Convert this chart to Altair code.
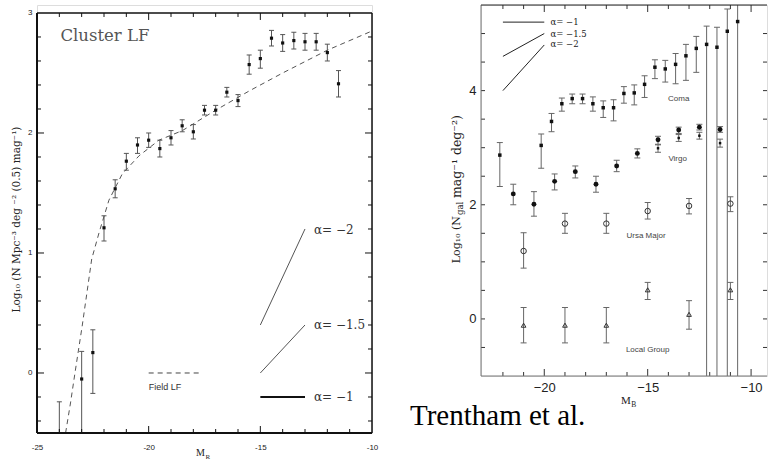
import altair as alt
import pandas as pd

# ---------------- Left panel: Cluster LF ----------------
cl_mag = [-24.0, -23.0, -22.5, -22.0, -21.5, -21.0, -20.5, -20.0, -19.5, -19.0, -18.5, -18.0,
          -17.5, -17.0, -16.5, -16.0, -15.5, -15.0, -14.5, -14.0, -13.5, -13.0, -12.5, -12.0, -11.5]
cl_log = [-0.62, -0.05, 0.17, 1.21, 1.535, 1.765, 1.90, 1.94, 1.87, 1.96, 2.06, 2.01,
          2.19, 2.19, 2.34, 2.27, 2.57, 2.62, 2.79, 2.75, 2.77, 2.76, 2.76, 2.67, 2.41]
cl_hi = [-0.24, 0.18, 0.36, 1.31, 1.61, 1.83, 1.96, 2.00, 1.94, 2.02, 2.11, 2.07,
         2.23, 2.23, 2.38, 2.32, 2.65, 2.69, 2.855, 2.82, 2.84, 2.83, 2.83, 2.74, 2.52]
cl_lo = [-1.0, -0.6, -0.17, 1.10, 1.46, 1.69, 1.83, 1.88, 1.80, 1.90, 2.01, 1.95,
         2.15, 2.15, 2.30, 2.22, 2.49, 2.54, 2.725, 2.68, 2.70, 2.69, 2.69, 2.60, 2.30]

field_mag = [-23.72, -23.50, -23.30, -22.97, -22.55, -22.22, -21.78, -21.18, -20.43, -19.54,
             -18.49, -17.0, -15.5, -14.0, -12.0, -10.0]
field_log = [-0.50, -0.25, 0.0, 0.40, 0.95, 1.17, 1.44, 1.66, 1.81, 1.94,
             2.02, 2.19, 2.35, 2.50, 2.69, 2.85]

alpha_names = ["−1", "−1.5", "−2"]
l_ref_x = [-15.0, -13.0]
l_ref_y1 = [-0.2, 0.0, 0.4]
l_ref_y2 = [-0.2, 0.4, 1.2]
l_ref_label_x = -12.6
l_ref_label_y = [-0.2, 0.4, 1.19]
l_field_x = [-20.0, -17.6]
l_field_y = 0.0

lx_labels = [-25, -20, -15, -10]
ly_labels = [0, 1, 2, 3]

# ---------------- Right panel: Trentham et al. ----------------
coma_mag = [-22.15, -20.15, -19.65, -19.15, -18.65, -18.15, -17.65, -17.15, -16.65, -16.15, -15.65,
            -15.15, -14.65, -14.15, -13.65, -13.15, -12.65, -12.15, -11.65, -11.15, -10.65]
coma_log = [2.87, 3.04, 3.46, 3.77, 3.86, 3.86, 3.77, 3.70, 3.70, 3.95, 3.96,
            4.11, 4.41, 4.38, 4.46, 4.61, 4.74, 4.81, 4.76, 5.04, 5.21]
coma_hi = [3.09, 3.24, 3.60, 3.87, 3.94, 3.94, 3.89, 3.82, 3.84, 4.07, 4.10,
           4.26, 4.54, 4.53, 4.65, 4.81, 4.95, 5.13, 5.11, 5.43, 5.80]
coma_lo = [2.32, 2.64, 3.28, 3.64, 3.77, 3.77, 3.64, 3.53, 3.47, 3.78, 3.75,
           3.88, 4.21, 4.15, 4.12, 4.18, 4.32, -1.5, -1.5, -1.5, -1.5]

virgo_mag = [-21.5, -20.5, -19.5, -18.5, -17.5, -16.5, -15.5, -14.5, -13.5, -12.5, -11.5]
virgo_log = [2.19, 2.01, 2.41, 2.58, 2.36, 2.68, 2.90, 3.14, 3.31, 3.36, 3.32]
virgo_hi = [2.36, 2.23, 2.54, 2.68, 2.50, 2.78, 2.98, 3.20, 3.36, 3.41, 3.37]
virgo_lo = [2.00, 1.80, 2.26, 2.47, 2.22, 2.58, 2.82, 3.06, 3.25, 3.31, 3.27]

virgo2_mag = [-14.5, -13.5, -12.5, -11.5]
virgo2_log = [2.99, 3.17, 3.21, 3.08]
virgo2_hi = [3.05, 3.23, 3.27, 3.15]
virgo2_lo = [2.92, 3.11, 3.15, 3.01]

uma_mag = [-21.0, -19.0, -17.0, -15.0, -13.0, -11.0]
uma_log = [1.19, 1.67, 1.67, 1.89, 1.98, 2.02]
uma_hi = [1.51, 1.85, 1.85, 2.04, 2.11, 2.14]
uma_lo = [0.89, 1.50, 1.50, 1.75, 1.84, 1.88]

lg_mag = [-21.0, -19.0, -17.0, -15.0, -13.0, -11.0]
lg_log = [-0.11, -0.11, -0.11, 0.51, 0.08, 0.51]
lg_hi = [0.20, 0.20, 0.20, 0.64, 0.32, 0.64]
lg_lo = [-0.42, -0.42, -0.42, 0.34, -0.18, 0.34]

r_ref_x = [-22.0, -20.0]
r_ref_y1 = [5.2, 4.6, 4.0]
r_ref_y2 = [5.2, 5.0, 4.8]
r_ref_label_x = -19.7
r_ref_label_y = [5.2, 5.0, 4.81]

group_names = ["Coma", "Virgo", "Ursa Major", "Local Group"]
group_x = [-13.5, -13.55, -15.08, -15.0]
group_y = [3.85, 2.80, 1.46, -0.55]

rx_labels = [-20, -15, -10]
ry_labels = [0, 2, 4]

# ---------------- geometry / styling ----------------
W1, H1 = 335, 428
W2, H2 = 286, 371
LX = [-25.0, -10.0]
LY = [-0.5, 3.0665]
RX = [-23.06, -23.06 + W2 / 20.68]
RY = [-1.0, 5.5]
SERIF = "DejaVu Serif"
SANS = "Liberation Sans"

lxs = alt.Scale(domain=LX, nice=False, zero=False)
lys = alt.Scale(domain=LY, nice=False, zero=False)
rxs = alt.Scale(domain=RX, nice=False, zero=False)
rys = alt.Scale(domain=RY, nice=False, zero=False)

lx_axis = alt.Axis(values=lx_labels, labelExpr="datum.value + ''", ticks=False, domain=False,
                   grid=False, labelFlush=False, labelFont=SANS, labelFontSize=8,
                   labelColor="#222", labelPadding=10, title=None)
ly_axis = alt.Axis(values=ly_labels, labelExpr="datum.value + ''", ticks=False, domain=False,
                   grid=False, labelFont=SANS, labelFontSize=8, labelColor="#222",
                   labelPadding=5, title="Log₁₀ (N Mpc⁻³ deg ⁻² (0.5) mag⁻¹)",
                   titleFont=SERIF, titleFontSize=10.5, titleFontWeight="normal",
                   titleColor="#222", titlePadding=6)
rx_axis = alt.Axis(values=rx_labels, labelExpr="replace(datum.value + '', '-', '\u2212')",
                   ticks=False, domain=False, grid=False, labelFlush=False, labelFont=SANS,
                   labelFontSize=13, labelColor="#222", labelPadding=5, title=None)
ry_axis = alt.Axis(values=ry_labels, labelExpr="datum.value + ''", ticks=False, domain=False,
                   grid=False, labelFont=SANS, labelFontSize=13, labelColor="#222",
                   labelPadding=5, title=None)


def lx(f):
    return alt.X(f, type="quantitative", scale=lxs, axis=lx_axis)


def ly(f):
    return alt.Y(f, type="quantitative", scale=lys, axis=ly_axis)


def rx(f):
    return alt.X(f, type="quantitative", scale=rxs, axis=rx_axis)


def ry(f):
    return alt.Y(f, type="quantitative", scale=rys, axis=ry_axis)


def tick_df(vals):
    return pd.DataFrame({"t": vals})


# ---------------- left panel layers ----------------
cl_df = pd.DataFrame({"m": cl_mag, "v": cl_log, "hi": cl_hi, "lo": cl_lo})
fld_df = pd.DataFrame({"m": field_mag, "v": field_log})
lref_df = pd.DataFrame({"a": alpha_names, "x1": l_ref_x[0], "x2": l_ref_x[1],
                        "y1": l_ref_y1, "y2": l_ref_y2,
                        "lx": l_ref_label_x, "ly": l_ref_label_y})
lref_df["t"] = "α= " + lref_df["a"]
lfield_df = pd.DataFrame({"x1": [l_field_x[0]], "x2": [l_field_x[1]], "y": [l_field_y]})

ECOL = "#555"
left_layers = []
left_layers.append(alt.Chart(fld_df).mark_line(color="#555", strokeWidth=1, strokeDash=[5, 4], clip=True)
                   .encode(x=lx("m"), y=ly("v")))
left_layers.append(alt.Chart(cl_df).mark_rule(color=ECOL, strokeWidth=1, clip=True)
                   .encode(x=lx("m"), y=ly("lo"), y2=alt.Y2("hi")))
for col in ["hi", "lo"]:
    left_layers.append(alt.Chart(cl_df).mark_tick(orient="horizontal", size=5, thickness=1,
                                                  color=ECOL, opacity=1, clip=True)
                       .encode(x=lx("m"), y=ly(col)))
left_layers.append(alt.Chart(cl_df).mark_square(size=10, color="#111", opacity=1, clip=True)
                   .encode(x=lx("m"), y=ly("v")))
left_layers.append(alt.Chart(lref_df).transform_filter("datum.a != '−1'")
                   .mark_rule(color="#555", strokeWidth=1)
                   .encode(x=lx("x1"), x2=alt.X2("x2"), y=ly("y1"), y2=alt.Y2("y2")))
left_layers.append(alt.Chart(lref_df).transform_filter("datum.a == '−1'")
                   .mark_rule(color="#111", strokeWidth=2)
                   .encode(x=lx("x1"), x2=alt.X2("x2"), y=ly("y1"), y2=alt.Y2("y2")))
left_layers.append(alt.Chart(lref_df).mark_text(font=SERIF, fontSize=12, color="#333",
                                                align="left", baseline="middle")
                   .encode(x=lx("lx"), y=ly("ly"), text="t:N"))
left_layers.append(alt.Chart(lfield_df).mark_rule(color="#444", strokeWidth=1, strokeDash=[5, 4])
                   .encode(x=lx("x1"), x2=alt.X2("x2"), y=ly("y")))
left_layers.append(alt.Chart(pd.DataFrame({"x": [-20.0], "y": [-0.12], "t": ["Field LF"]}))
                   .mark_text(font=SANS, fontSize=9, color="#333", align="left", baseline="middle")
                   .encode(x=lx("x"), y=ly("y"), text="t:N"))
left_layers.append(alt.Chart(pd.DataFrame({"x": [-23.95], "y": [2.805], "t": ["Cluster LF"]}))
                   .mark_text(font=SERIF, fontSize=16.5, color="#555", align="left",
                              baseline="middle")
                   .encode(x=lx("x"), y=ly("y"), text="t:N"))

top_px = H1 * (LY[1] - 3.0) / (LY[1] - LY[0])
lx_minor = [v for v in range(-24, -10) if v % 5 != 0]
lx_major = [-20, -15]
ly_major = [0.0, 1.0, 2.0]
ly_minor = [-0.4, -0.2, 0.2, 0.4, 0.6, 0.8, 1.2, 1.4, 1.6, 1.8, 2.2, 2.4, 2.6, 2.8]

for vals, ln in [(lx_minor, 4), (lx_major, 7)]:
    left_layers.append(alt.Chart(tick_df(vals)).mark_rule(color="#111", strokeWidth=1)
                       .encode(x=lx("t"), y=alt.value(H1), y2=alt.value(H1 - ln)))
    left_layers.append(alt.Chart(tick_df(vals)).mark_rule(color="#111", strokeWidth=1)
                       .encode(x=lx("t"), y=alt.value(top_px), y2=alt.value(top_px + ln)))
for vals, ln in [(ly_minor, 4), (ly_major, 7)]:
    left_layers.append(alt.Chart(tick_df(vals)).mark_rule(color="#111", strokeWidth=1)
                       .encode(y=ly("t"), x=alt.value(0), x2=alt.value(ln)))
    left_layers.append(alt.Chart(tick_df(vals)).mark_rule(color="#111", strokeWidth=1)
                       .encode(y=ly("t"), x=alt.value(W1), x2=alt.value(W1 - ln)))

left_layers.append(alt.Chart().mark_rule(color="#111", strokeWidth=2)
                   .encode(x=alt.value(0), y=alt.value(top_px), y2=alt.value(H1)))
left_layers.append(alt.Chart().mark_rule(color="#111", strokeWidth=2)
                   .encode(x=alt.value(0), x2=alt.value(W1), y=alt.value(H1)))
left_layers.append(alt.Chart().mark_rule(color="#111", strokeWidth=1.5)
                   .encode(x=alt.value(W1), y=alt.value(top_px), y2=alt.value(H1)))
left_layers.append(alt.Chart().mark_rule(color="#111", strokeWidth=1.5)
                   .encode(x=alt.value(0), x2=alt.value(W1), y=alt.value(top_px)))
left_layers.append(alt.Chart().mark_text(text="M", font="Liberation Serif", fontSize=10,
                                         color="#222", align="right", baseline="alphabetic")
                   .encode(x=alt.value(168), y=alt.value(451)))
left_layers.append(alt.Chart().mark_text(text="R", font="Liberation Serif", fontSize=7,
                                         color="#222", align="left", baseline="alphabetic")
                   .encode(x=alt.value(168.5), y=alt.value(453.5)))

left = alt.layer(*left_layers).properties(width=W1, height=H1)

# ---------------- right panel layers ----------------
def err_df(m, v, hi, lo):
    return pd.DataFrame({"m": m, "v": v, "hi": hi, "lo": lo})


coma_df = err_df(coma_mag, coma_log, coma_hi, coma_lo)
virgo_df = err_df(virgo_mag, virgo_log, virgo_hi, virgo_lo)
virgo2_df = err_df(virgo2_mag, virgo2_log, virgo2_hi, virgo2_lo)
uma_df = err_df(uma_mag, uma_log, uma_hi, uma_lo)
lg_df = err_df(lg_mag, lg_log, lg_hi, lg_lo)

RCOL = "#666"
right_layers = []
for d in [coma_df, virgo_df, virgo2_df, uma_df, lg_df]:
    right_layers.append(alt.Chart(d).mark_rule(color=RCOL, strokeWidth=1, clip=True)
                        .encode(x=rx("m"), y=ry("lo"), y2=alt.Y2("hi")))
    for col in ["hi", "lo"]:
        right_layers.append(alt.Chart(d).mark_tick(orient="horizontal", size=6, thickness=1,
                                                   color=RCOL, opacity=1, clip=True)
                            .encode(x=rx("m"), y=ry(col)))
right_layers.append(alt.Chart(coma_df).mark_square(size=12, color="#111", opacity=1, clip=True)
                    .encode(x=rx("m"), y=ry("v")))
right_layers.append(alt.Chart(virgo_df).mark_circle(size=24, color="#111", opacity=1, clip=True)
                    .encode(x=rx("m"), y=ry("v")))
right_layers.append(alt.Chart(virgo2_df).mark_square(size=6, color="#111", opacity=1, clip=True)
                    .encode(x=rx("m"), y=ry("v")))
right_layers.append(alt.Chart(uma_df).mark_point(shape="circle", size=30, color="#333", filled=False,
                                                 strokeWidth=1, opacity=1, clip=True)
                    .encode(x=rx("m"), y=ry("v")))
right_layers.append(alt.Chart(lg_df).mark_point(shape="triangle-up", size=22, color="#333",
                                                filled=False, strokeWidth=1, opacity=1, clip=True)
                    .encode(x=rx("m"), y=ry("v")))

rref_df = pd.DataFrame({"a": alpha_names, "x1": r_ref_x[0], "x2": r_ref_x[1],
                        "y1": r_ref_y1, "y2": r_ref_y2,
                        "lx": r_ref_label_x, "ly": r_ref_label_y})
rref_df["t"] = "α= " + rref_df["a"]
right_layers.append(alt.Chart(rref_df).mark_rule(color="#222", strokeWidth=1)
                    .encode(x=rx("x1"), x2=alt.X2("x2"), y=ry("y1"), y2=alt.Y2("y2")))
right_layers.append(alt.Chart(rref_df).mark_text(font=SERIF, fontSize=8.5, color="#222",
                                                 align="left", baseline="middle")
                    .encode(x=rx("lx"), y=ry("ly"), text="t:N"))
grp_df = pd.DataFrame({"t": group_names, "x": group_x, "y": group_y})
right_layers.append(alt.Chart(grp_df).mark_text(font=SANS, fontSize=8, color="#444",
                                                align="center", baseline="middle")
                    .encode(x=rx("x"), y=ry("y"), text="t:N"))

rx_minor = [v for v in range(-22, -9) if v % 5 != 0]
rx_major = [-20, -15, -10]
ry_ticks = [-0.5, 0.0, 0.5, 1.0, 1.5, 2.0, 2.5, 3.0, 3.5, 4.0, 4.5, 5.0]
for vals, ln in [(rx_minor, 4), (rx_major, 7)]:
    right_layers.append(alt.Chart(tick_df(vals)).mark_rule(color="#333", strokeWidth=1)
                        .encode(x=rx("t"), y=alt.value(H2), y2=alt.value(H2 - ln)))
    right_layers.append(alt.Chart(tick_df(vals)).mark_rule(color="#333", strokeWidth=1)
                        .encode(x=rx("t"), y=alt.value(0), y2=alt.value(ln)))
right_layers.append(alt.Chart(tick_df(ry_ticks)).mark_rule(color="#333", strokeWidth=1)
                    .encode(y=ry("t"), x=alt.value(0), x2=alt.value(4)))
right_layers.append(alt.Chart(tick_df(ry_ticks)).mark_rule(color="#333", strokeWidth=1)
                    .encode(y=ry("t"), x=alt.value(W2), x2=alt.value(W2 - 4)))
right_layers.append(alt.Chart().mark_rule(color="#777", strokeWidth=1)
                    .encode(x=alt.value(0), y=alt.value(0), y2=alt.value(H2)))
right_layers.append(alt.Chart().mark_rule(color="#777", strokeWidth=1)
                    .encode(x=alt.value(0), x2=alt.value(W2), y=alt.value(H2)))
right_layers.append(alt.Chart().mark_rule(color="#222", strokeWidth=1)
                    .encode(x=alt.value(0), x2=alt.value(W2), y=alt.value(0)))
# y title pieces: Log10 (N_gal mag^-1 deg^-2)
right_layers.append(alt.Chart().mark_text(text="Log₁₀ (N", font=SERIF, fontSize=11, color="#222",
                                          angle=270, align="right", baseline="middle")
                    .encode(x=alt.value(-24.5), y=alt.value(211)))
right_layers.append(alt.Chart().mark_text(text="gal", font=SERIF, fontSize=8.5, color="#222",
                                          angle=270, align="left", baseline="middle")
                    .encode(x=alt.value(-21.0), y=alt.value(210)))
right_layers.append(alt.Chart().mark_text(text="mag⁻¹ deg⁻²)", font=SERIF, fontSize=12.5,
                                          color="#222", angle=270, align="left", baseline="middle")
                    .encode(x=alt.value(-24.5), y=alt.value(193)))
# x title M_B
right_layers.append(alt.Chart().mark_text(text="M", font="Liberation Serif", fontSize=11,
                                          color="#222", align="right", baseline="alphabetic")
                    .encode(x=alt.value(149.7), y=alt.value(399.3)))
right_layers.append(alt.Chart().mark_text(text="B", font="Liberation Serif", fontSize=7.5,
                                          color="#222", align="left", baseline="alphabetic")
                    .encode(x=alt.value(150.2), y=alt.value(402)))
right_layers.append(alt.Chart().mark_text(text="Trentham et al.", font="Liberation Serif",
                                          fontSize=29, color="#000", align="left",
                                          baseline="alphabetic")
                    .encode(x=alt.value(-71), y=alt.value(420)))

right = alt.layer(*right_layers).properties(width=W2, height=H2)

chart = (alt.hconcat(left, right, spacing=30)
         .properties(padding={"left": 11, "top": 4, "right": 0, "bottom": 0})
         .configure_view(stroke=None)
         .configure(background="white"))

chart.save("out.html", embed_options={"renderer": "svg", "actions": False})
